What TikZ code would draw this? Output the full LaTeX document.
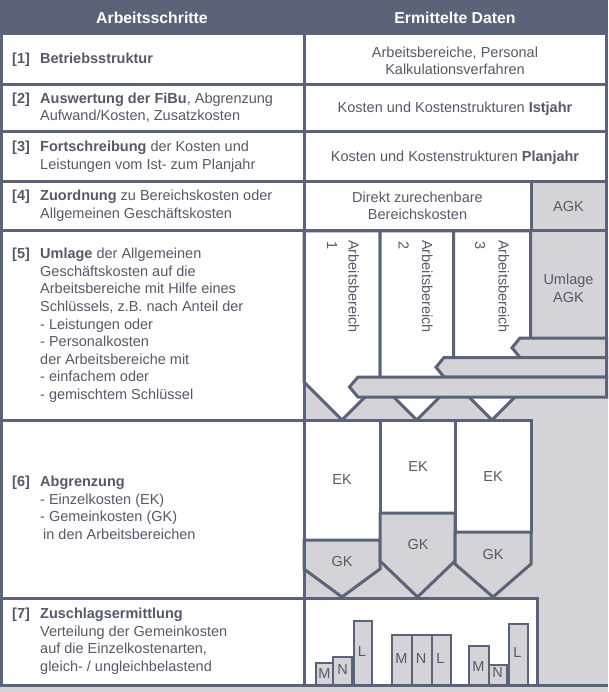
\documentclass[tikz,border=0pt]{standalone}
\usepackage{fontspec}
\setmainfont{Liberation Sans}
\definecolor{lc}{RGB}{91,99,120}
\definecolor{gf}{RGB}{212,212,216}
\definecolor{tc}{RGB}{85,90,105}
\begin{document}
\begin{tikzpicture}[x=1pt,y=-1pt,
  tl/.style={draw=lc,line width=3pt},
  bar/.style={fill=gf,draw=lc,line width=2.5pt},
  txt/.style={text=tc,font=\fontsize{14.5}{17.6}\selectfont,inner sep=0pt},
  hd/.style={text=white,font=\fontsize{15.8}{18}\selectfont\bfseries,inner sep=0pt},
  rot/.style={txt,rotate=-90,anchor=base west}]
\useasboundingbox (0,0) rectangle (608,692);
% background
\fill[gf] (0,0) rectangle (608,692);
% white cells
\fill[white] (1.5,35.5) rectangle (304,685);
\fill[white] (304,35.5) rectangle (606.5,181.5);
\fill[white] (304,181.5) rectangle (531,231);
\fill[white] (304,598.5) rectangle (537.5,685);
% header
\fill[lc] (0,0) rectangle (608,35.5);
% row 5: column arrows
\filldraw[fill=white,tl] (304,231) -- (380,231) -- (380,382) -- (342,420) -- (304,382) -- cycle;
\filldraw[fill=white,tl] (380,231) -- (453.5,231) -- (453.5,383.25) -- (416.75,420) -- (380,383.25) -- cycle;
\filldraw[fill=white,tl] (453.5,231) -- (530.5,231) -- (530.5,381.5) -- (492,420) -- (453.5,381.5) -- cycle;
\draw[tl] (530.5,231) -- (530.5,338);
% row 5: strips
\filldraw[fill=gf,tl] (520,338) -- (606.5,338) -- (606.5,357.5) -- (520,357.5) -- (512,347.75) -- cycle;
\filldraw[fill=gf,tl] (444,357.5) -- (606.5,357.5) -- (606.5,377) -- (444,377) -- (436,367.25) -- cycle;
\filldraw[fill=gf,tl] (358,377) -- (606.5,377) -- (606.5,397) -- (358,397) -- (349.5,387) -- cycle;
% row 6 boxes
\filldraw[fill=white,tl] (304,420) rectangle (380,540);
\filldraw[fill=gf,tl] (304,540) -- (380,540) -- (380,569) -- (342,597) -- (304,569) -- cycle;
\filldraw[fill=white,tl] (380,420) rectangle (455,513);
\filldraw[fill=gf,tl] (380,513) -- (455,513) -- (455,561) -- (417.5,597) -- (380,561) -- cycle;
\filldraw[fill=white,tl] (455,420) rectangle (531,532);
\filldraw[fill=gf,tl] (455,532) -- (531,532) -- (531,564) -- (493,597) -- (455,564) -- cycle;
% row 7 bars
\filldraw[bar] (316,663) rectangle (333,685);
\filldraw[bar] (333,657) rectangle (352,685);
\filldraw[bar] (354,621) rectangle (372,685);
\filldraw[bar] (392,635) rectangle (412,685);
\filldraw[bar] (412,635) rectangle (432,685);
\filldraw[bar] (432,635) rectangle (451,685);
\filldraw[bar] (469,646) rectangle (489,685);
\filldraw[bar] (489,665) rectangle (507,685);
\filldraw[bar] (509,624) rectangle (528,685);
% table lines
\draw[tl] (1.5,35.5) -- (1.5,685);
\draw[tl] (606.5,35.5) -- (606.5,397);
\draw[tl] (304,35.5) -- (304,685);
\draw[tl] (0,85) -- (608,85);
\draw[tl] (0,132) -- (608,132);
\draw[tl] (0,181.5) -- (608,181.5);
\draw[tl] (0,231) -- (608,231);
\draw[tl] (531,181.5) -- (531,231);
\draw[tl] (0,420) -- (531,420);
\draw[tl] (0,598.5) -- (537.5,598.5) -- (537.5,685);
\draw[tl] (0,685) -- (608,685);
% header text
\node[hd] (h1) at (152,17.5) {Arbeitsschritte};
\node[hd] (h2) at (455,17.5) {Ermittelte Daten};
% left column texts
\node[txt,anchor=west] (l1) at (12,60) {\begin{tabular}{@{}p{28pt}@{}l@{}}\textbf{[1]} & \textbf{Betriebsstruktur}\end{tabular}};
\node[txt,anchor=west] (l2) at (12,108.5) {\begin{tabular}{@{}p{28pt}@{}l@{}}\textbf{[2]} & \textbf{Auswertung der FiBu}, Abgrenzung\\ & Aufwand/Kosten, Zusatzkosten\end{tabular}};
\node[txt,anchor=west] (l3) at (12,157) {\begin{tabular}{@{}p{28pt}@{}l@{}}\textbf{[3]} & \textbf{Fortschreibung} der Kosten und\\ & Leistungen vom Ist- zum Planjahr\end{tabular}};
\node[txt,anchor=west] (l4) at (12,206) {\begin{tabular}{@{}p{28pt}@{}l@{}}\textbf{[4]} & \textbf{Zuordnung} zu Bereichskosten oder\\ & Allgemeinen Geschäftskosten\end{tabular}};
\node[txt,anchor=west] (l5) at (12,325.5) {\begin{tabular}{@{}p{28pt}@{}l@{}}\textbf{[5]} & \textbf{Umlage} der Allgemeinen\\ & Geschäftskosten auf die\\ & Arbeitsbereiche mit Hilfe eines\\ & Schlüssels, z.B. nach Anteil der\\ & - Leistungen oder\\ & - Personalkosten\\ & der Arbeitsbereiche mit\\ & - einfachem oder\\ & - gemischtem Schlüssel\end{tabular}};
\node[txt,anchor=west] (l6) at (12,509.5) {\begin{tabular}{@{}p{28pt}@{}l@{}}\textbf{[6]} & \textbf{Abgrenzung}\\ & - Einzelkosten (EK)\\ & - Gemeinkosten (GK)\\ & \hspace{3pt}in den Arbeitsbereichen\end{tabular}};
\node[txt,anchor=west] (l7) at (12,641.5) {\begin{tabular}{@{}p{28pt}@{}l@{}}\textbf{[7]} & \textbf{Zuschlagsermittlung}\\ & Verteilung der Gemeinkosten\\ & auf die Einzelkostenarten,\\ & gleich- / ungleichbelastend\end{tabular}};
% right column texts
\node[txt,align=center] (r1) at (455,61) {Arbeitsbereiche, Personal\\Kalkulationsverfahren};
\node[txt] (r2) at (455,109) {Kosten und Kostenstrukturen \textbf{Istjahr}};
\node[txt] (r3) at (455,157.5) {Kosten und Kostenstrukturen \textbf{Planjahr}};
\node[txt,align=center] (r4) at (417.5,206) {Direkt zurechenbare\\Bereichskosten};
\node[txt] (agk) at (568.5,207) {AGK};
\node[txt,align=center] (uagk) at (568.5,288.5) {Umlage\\AGK};
% rotated labels
\node[rot] (ab1) at (348.5,240) {Arbeitsbereich};
\node[rot] (n1) at (327,241.5) {1};
\node[rot] (ab2) at (422,240) {Arbeitsbereich};
\node[rot] (n2) at (398.5,241.5) {2};
\node[rot] (ab3) at (498.5,240) {Arbeitsbereich};
\node[rot] (n3) at (475,241.5) {3};
% row 6 labels
\node[txt] (ek1) at (342,480) {EK};
\node[txt] (gk1) at (342,562) {GK};
\node[txt] (ek2) at (418,467) {EK};
\node[txt] (gk2) at (418,545) {GK};
\node[txt] (ek3) at (493,477) {EK};
\node[txt] (gk3) at (493,555) {GK};
% row 7 labels
\node[txt] (m1) at (324.5,674) {M};
\node[txt] (na) at (342.5,670) {N};
\node[txt] (la) at (362,651.5) {L};
\node[txt] (m2) at (401.5,658.5) {M};
\node[txt] (nb) at (421,658.5) {N};
\node[txt] (lb) at (440.5,658.5) {L};
\node[txt] (m3) at (478.5,666.5) {M};
\node[txt] (nc) at (497.5,673) {N};
\node[txt] (lc) at (517.5,653) {L};
\end{tikzpicture}
\end{document}
